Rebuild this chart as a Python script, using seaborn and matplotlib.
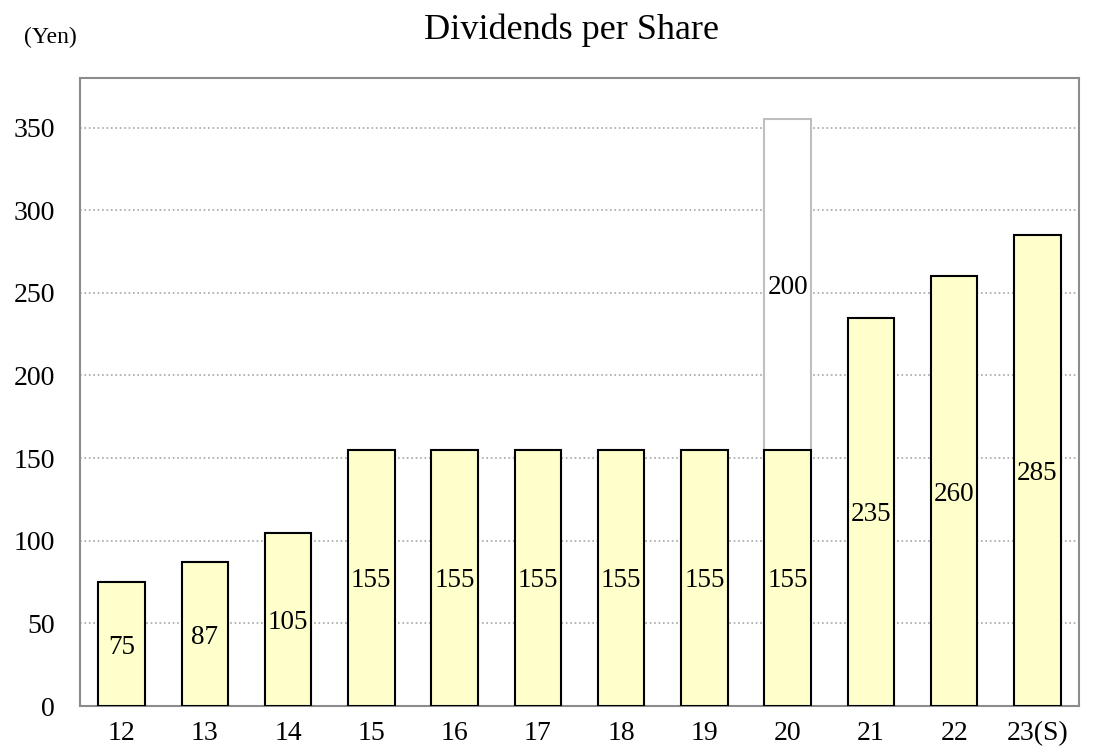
import pandas as pd
import numpy as np
import matplotlib
matplotlib.use('Agg')
import matplotlib.pyplot as plt
import seaborn as sns

# data
years = ['12', '13', '14', '15', '16', '17', '18', '19', '20', '21', '22', '23(S)']
base_dps = [75, 87, 105, 155, 155, 155, 155, 155, 155, 235, 260, 285]
extra_dps = [0, 0, 0, 0, 0, 0, 0, 0, 200, 0, 0, 0]

df = pd.DataFrame({'year': years, 'base': base_dps, 'extra': extra_dps})
df['total'] = df['base'] + df['extra']

sns.set_theme(style='white')
plt.rcParams['font.family'] = ['Liberation Serif', 'DejaVu Serif']
plt.rcParams['text.color'] = 'black'

fig = plt.figure(figsize=(10.97, 7.48), dpi=100)
ax = fig.add_axes([0.0729, 0.0561, 0.9107, 0.8396])

# white stacked segment (drawn full height, the yellow bar goes over it)
sns.barplot(data=df, x='year', y='total', color='white', edgecolor='#BFBFBF',
            linewidth=1.5, saturation=1, width=0.56, ax=ax, zorder=2)
sns.barplot(data=df, x='year', y='base', color='#FFFFCC', edgecolor='black',
            linewidth=1.5, saturation=1, width=0.56, ax=ax, zorder=3)

# labels centred in each segment
for i, row in df.iterrows():
    ax.text(i, row['base'] / 2, str(row['base']), ha='center', va='center_baseline',
            fontsize=19.5, color='black', zorder=5)
    if row['extra'] > 0:
        ax.text(i, row['base'] + row['extra'] / 2, str(row['extra']), ha='center',
                va='center_baseline', fontsize=19.5, color='black', zorder=5)

ax.set_xlim(-0.5, len(years) - 0.5)
ax.set_ylim(0, 380)
ax.set_yticks(range(0, 351, 50))
ax.yaxis.grid(True, linestyle=':', color='#A6A6A6', linewidth=1.2, zorder=0)
ax.set_axisbelow(True)
ax.set_xlabel('')
ax.set_ylabel('')
ax.tick_params(axis='both', length=0, labelsize=20, colors='black')
ax.tick_params(axis='x', pad=11)
ax.tick_params(axis='y', pad=18)
for s in ax.spines.values():
    s.set_color('#8C8C8C')
    s.set_linewidth(1.5)

fig.text(0.5214, 0.9479, 'Dividends per Share', ha='center', va='baseline',
         fontsize=26, color='black')
fig.text(0.0219, 0.9425, '(Yen)', ha='left', va='baseline', fontsize=17, color='black')

fig.savefig('out.png', dpi=100)
